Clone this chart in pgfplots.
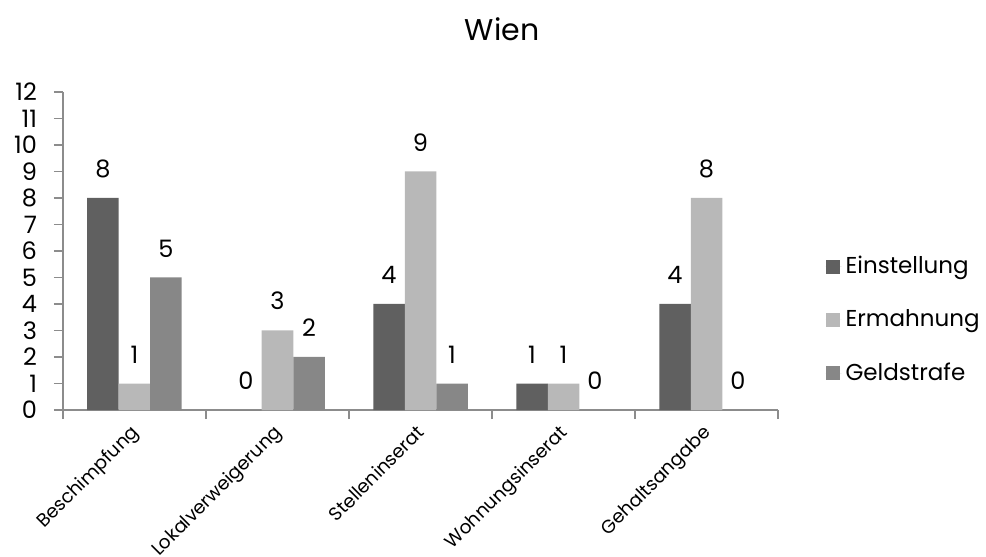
\documentclass[border=0pt]{standalone}
\usepackage{fontspec}
\setmainfont{Poppins}
\usepackage{pgfplots}
\pgfplotsset{compat=1.18}
\definecolor{cA}{HTML}{606060}
\definecolor{cB}{HTML}{B8B8B8}
\definecolor{cC}{HTML}{878787}
\definecolor{axgray}{HTML}{8C8C8C}
\begin{document}
\begin{tikzpicture}
\begin{axis}[
  /pgf/number format/assume math mode=true,
  scale only axis, width=357.5pt, height=159pt,
  ybar=0pt, bar width=15.75pt,
  xmin=-0.5, xmax=4.5, ymin=0, ymax=12,
  axis x line*=bottom, axis y line*=left,
  axis line style={draw=axgray, line width=0.6pt},
  ytick={0,...,12},
  yticklabel style={font=\fontsize{12}{12}\selectfont, xshift=-5pt},
  ytick style={draw=axgray, line width=0.6pt},
  major tick length=4.5pt,
  tick align=outside,
  xtick={-0.5,0.5,...,4.5},
  xticklabels={},
  xtick style={draw=axgray, line width=0.6pt},
  extra x ticks={0,1,2,3,4},
  extra x tick labels={Beschimpfung,Lokalverweigerung,Stelleninserat,Wohnungsinserat,Gehaltsangabe},
  extra x tick style={major tick length=0pt, xticklabel style={xshift=-2.5pt, yshift=-6.5pt, rotate=45, anchor=north east, inner sep=0pt, font=\fontsize{9.3}{10}\selectfont}},
  nodes near coords,
  nodes near coords style={font=\fontsize{12}{12}\selectfont, anchor=south, inner sep=0pt, yshift=10pt, text=black},
  title={Wien},
  title style={at={(0.614,1)}, anchor=center, yshift=25.5pt, font=\fontsize{15}{15}\selectfont},
  legend style={at={(1.066,0.283)}, anchor=west, draw=none, fill=none, inner sep=0pt, row sep=12.5pt, font=\fontsize{11.5}{11.5}\selectfont, legend cell align=left},
  legend image code/.code={\path[#1, draw=none] (0pt,-3.5pt) rectangle (7pt,3.5pt); \path (0pt,0pt) -- (8pt,0pt);},
]
\addplot[fill=cA, draw=none] coordinates {(0,8) (1,0) (2,4) (3,1) (4,4)};
\addplot[fill=cB, draw=none] coordinates {(0,1) (1,3) (2,9) (3,1) (4,8)};
\addplot[fill=cC, draw=none] coordinates {(0,5) (1,2) (2,1) (3,0) (4,0)};
\legend{Einstellung,Ermahnung,Geldstrafe}
\coordinate (bl) at (rel axis cs:0,0);
\end{axis}
\pgfresetboundingbox
\useasboundingbox ([xshift=-31.5pt,yshift=-73.5pt]bl) rectangle ([xshift=461.5pt,yshift=205pt]bl);
\end{tikzpicture}
\end{document}
